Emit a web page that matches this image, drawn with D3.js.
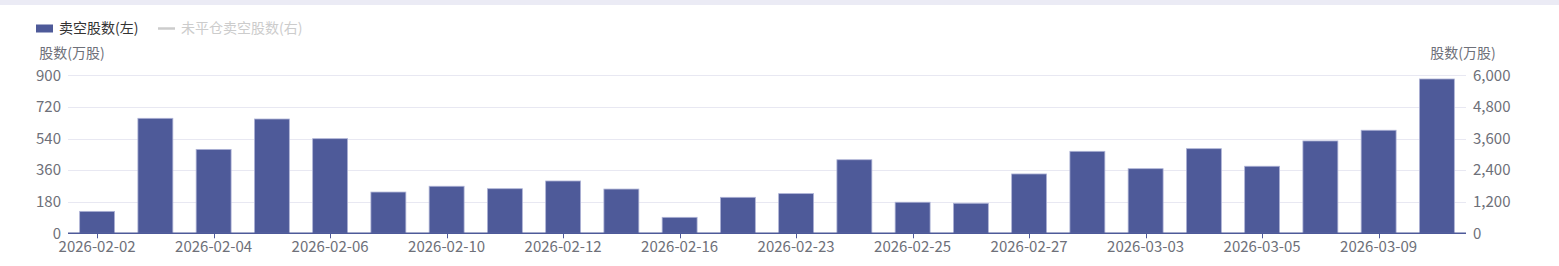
<!DOCTYPE html>
<html>
<head>
<meta charset="utf-8">
<script src="https://cdn.jsdelivr.net/npm/d3@7"></script>
<style>
  body { margin: 0; background: #fff; }
  svg { display: block; font-family: "Noto Sans CJK SC", sans-serif; }
</style>
</head>
<body>
<div id="chart"></div>
<script>
// data
var dates = ["2026-02-02","2026-02-03","2026-02-04","2026-02-05","2026-02-06","2026-02-09",
             "2026-02-10","2026-02-11","2026-02-12","2026-02-13","2026-02-16","2026-02-17",
             "2026-02-23","2026-02-24","2026-02-25","2026-02-26","2026-02-27","2026-03-02",
             "2026-03-03","2026-03-04","2026-03-05","2026-03-06","2026-03-09","2026-03-10"];
var shortShares = [125, 655, 478, 651, 539, 235, 268, 254, 298, 252, 91, 205,
                   226, 419, 177, 171, 338, 467, 368, 482, 382, 526, 587, 879];
var leftTicks = [0, 180, 360, 540, 720, 900];
var rightTicks = [0, 1200, 2400, 3600, 4800, 6000];
var seriesNames = ["卖空股数(左)", "未平仓卖空股数(右)"];
var axisName = "股数(万股)";

var W = 1559, H = 266;
var margin = {top: 75.3, right: 93, bottom: 32.7, left: 68};
var barColor = "#4e5a99";

var svg = d3.select("#chart").append("svg")
    .attr("width", W)
    .attr("height", H);

// top band
svg.append("rect")
    .attr("x", 0).attr("y", 0)
    .attr("width", W).attr("height", 5)
    .attr("fill", "#ebebf5");

// scales
var x = d3.scaleBand()
    .domain(dates)
    .range([margin.left, W - margin.right])
    .paddingInner(0.4)
    .paddingOuter(0.2);

var y = d3.scaleLinear().domain([0, 900]).range([H - margin.bottom, margin.top]);
var y2 = d3.scaleLinear().domain([0, 6000]).range([H - margin.bottom, margin.top]);

// grid lines
svg.append("g")
    .selectAll("line")
    .data(leftTicks.slice(1))
    .join("line")
    .attr("x1", margin.left)
    .attr("x2", W - margin.right)
    .attr("y1", function(d) { return Math.round(y(d)) + 0.5; })
    .attr("y2", function(d) { return Math.round(y(d)) + 0.5; })
    .attr("stroke", "#e8e8f2");

// left axis labels
svg.append("g")
    .selectAll("text")
    .data(leftTicks)
    .join("text")
    .attr("x", margin.left - 7)
    .attr("y", function(d) { return y(d); })
    .attr("dy", "0.35em")
    .attr("text-anchor", "end")
    .attr("font-size", 15)
    .attr("fill", "#6e7079")
    .text(function(d) { return d3.format(",")(d); });

// right axis labels
svg.append("g")
    .selectAll("text")
    .data(rightTicks)
    .join("text")
    .attr("x", W - margin.right + 7)
    .attr("y", function(d) { return y2(d); })
    .attr("dy", "0.35em")
    .attr("text-anchor", "start")
    .attr("font-size", 15)
    .attr("fill", "#6e7079")
    .text(function(d) { return d3.format(",")(d); });

// axis names
svg.append("text")
    .attr("x", margin.left + 4)
    .attr("y", 53)
    .attr("dy", "0.35em")
    .attr("text-anchor", "middle")
    .attr("font-size", 14)
    .attr("fill", "#6e7079")
    .text(axisName);

svg.append("text")
    .attr("x", W - margin.right - 3)
    .attr("y", 53)
    .attr("dy", "0.35em")
    .attr("text-anchor", "middle")
    .attr("font-size", 14)
    .attr("fill", "#6e7079")
    .text(axisName);

// bars
svg.append("g")
    .selectAll("rect")
    .data(shortShares)
    .join("rect")
    .attr("x", function(d, i) { return x(dates[i]); })
    .attr("y", function(d) { return y(d); })
    .attr("width", x.bandwidth())
    .attr("height", function(d) { return y(0) - y(d); })
    .attr("fill", barColor)
    .attr("stroke", "#aeb3d6")
    .attr("stroke-width", 0.8);

// x axis
var labelDates = dates.filter(function(d, i) { return i % 2 === 0; });
var xAxis = svg.append("g");

xAxis.append("line")
    .attr("x1", margin.left)
    .attr("x2", W - margin.right)
    .attr("y1", y(0))
    .attr("y2", y(0))
    .attr("stroke", barColor)
    .attr("stroke-width", 1.5);

xAxis.selectAll(".tick")
    .data(labelDates)
    .join("line")
    .attr("class", "tick")
    .attr("x1", function(d) { return Math.round(x(d) + x.bandwidth() / 2) + 0.5; })
    .attr("x2", function(d) { return Math.round(x(d) + x.bandwidth() / 2) + 0.5; })
    .attr("y1", y(0))
    .attr("y2", y(0) + 5)
    .attr("stroke", barColor);

xAxis.selectAll(".xlabel")
    .data(labelDates)
    .join("text")
    .attr("class", "xlabel")
    .attr("x", function(d) { return x(d) + x.bandwidth() / 2; })
    .attr("y", 247)
    .attr("dy", "0.35em")
    .attr("text-anchor", "middle")
    .attr("font-size", 15)
    .attr("fill", "#6e7079")
    .text(function(d) { return d; });

// legend
var legend = svg.append("g");
legend.append("rect")
    .attr("x", 36).attr("y", 24.5)
    .attr("width", 17).attr("height", 8)
    .attr("fill", barColor);
legend.append("text")
    .attr("x", 59).attr("y", 28.5)
    .attr("dy", "0.35em")
    .attr("font-size", 14)
    .attr("fill", "#333")
    .text(seriesNames[0]);
legend.append("line")
    .attr("x1", 158).attr("x2", 175)
    .attr("y1", 28.5).attr("y2", 28.5)
    .attr("stroke", "#ccc")
    .attr("stroke-width", 2.5);
legend.append("text")
    .attr("x", 181).attr("y", 28.5)
    .attr("dy", "0.35em")
    .attr("font-size", 14)
    .attr("fill", "#ccc")
    .text(seriesNames[1]);
</script>
</body>
</html>
